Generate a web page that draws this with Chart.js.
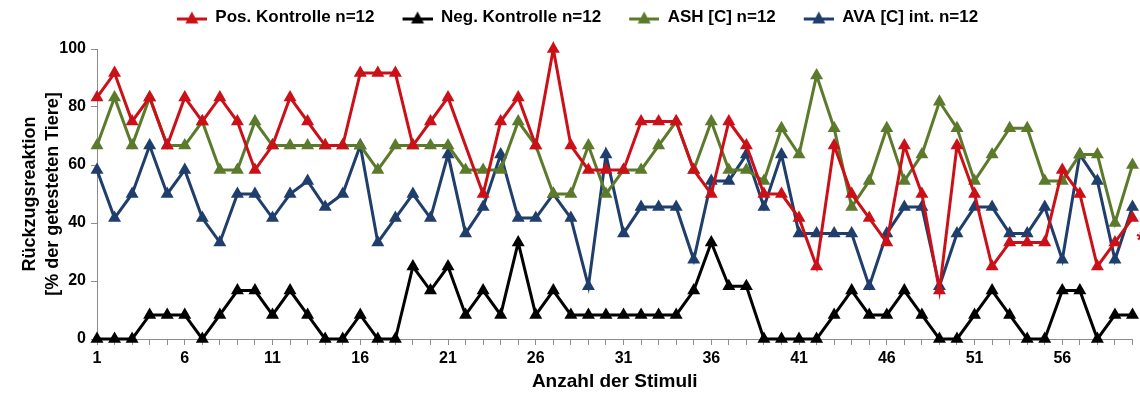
<!DOCTYPE html>
<html>
<head>
<meta charset="utf-8">
<title>Rückzugsreaktion</title>
<script src="https://cdn.jsdelivr.net/npm/chart.js@4.4.1/dist/chart.umd.min.js"></script>
<style>
  html, body { margin: 0; padding: 0; background: #ffffff; }
</style>
</head>
<body>
<canvas id="chart" width="1140" height="394"></canvas>
<script>
// Stimulus-Nummern 1..60
const categories = Array.from({ length: 60 }, (_, i) => String(i + 1));

// Werte in %
const posKontrolle = [
  83.3, 91.7, 75, 83.3, 66.7, 83.3, 75, 83.3, 75, 58.3,
  66.7, 83.3, 75, 66.7, 66.7, 91.7, 91.7, 91.7, 66.7, 75,
  83.3, null, 50, 75, 83.3, 66.7, 100, 66.7, 58.3, 58.3,
  58.3, 75, 75, 75, 58.3, 50, 75, 66.7, 50, 50,
  41.7, 25, 66.7, 50, 41.7, 33.3, 66.7, 50, 16.7, 66.7,
  50, 25, 33.3, 33.3, 33.3, 58.3, 50, 25, 33.3, 41.7
];
const negKontrolle = [
  0, 0, 0, 8.3, 8.3, 8.3, 0, 8.3, 16.7, 16.7,
  8.3, 16.7, 8.3, 0, 0, 8.3, 0, 0, 25, 16.7,
  25, 8.3, 16.7, 8.3, 33.3, 8.3, 16.7, 8.3, 8.3, 8.3,
  8.3, 8.3, 8.3, 8.3, 16.7, 33.3, 18.2, 18.2, 0, 0,
  0, 0, 8.3, 16.7, 8.3, 8.3, 16.7, 8.3, 0, 0,
  8.3, 16.7, 8.3, 0, 0, 16.7, 16.7, 0, 8.3, 8.3
];
const ashC = [
  66.7, 83.3, 66.7, 83.3, 66.7, 66.7, 75, 58.3, 58.3, 75,
  66.7, 66.7, 66.7, 66.7, 66.7, 66.7, 58.3, 66.7, 66.7, 66.7,
  66.7, 58.3, 58.3, 58.3, 75, 66.7, 50, 50, 66.7, 50,
  58.3, 58.3, 66.7, 75, 58.3, 75, 58.3, 58.3, 54.5, 72.7,
  63.6, 90.9, 72.7, 45.5, 54.5, 72.7, 54.5, 63.6, 81.8, 72.7,
  54.5, 63.6, 72.7, 72.7, 54.5, 54.5, 63.6, 63.6, 40, 60
];
const avaCint = [
  58.3, 41.7, 50, 66.7, 50, 58.3, 41.7, 33.3, 50, 50,
  41.7, 50, 54.5, 45.5, 50, 66.7, 33.3, 41.7, 50, 41.7,
  63.6, 36.4, 45.5, 63.6, 41.7, 41.7, 50, 41.7, 18.2, 63.6,
  36.4, 45.5, 45.5, 45.5, 27.3, 54.5, 54.5, 63.6, 45.5, 63.6,
  36.4, 36.4, 36.4, 36.4, 18.2, 36.4, 45.5, 45.5, 18.2, 36.4,
  45.5, 45.5, 36.4, 36.4, 45.5, 27.3, 63.6, 54.5, 27.3, 45.5
];

const seriesNames = ['Pos. Kontrolle n=12', 'Neg. Kontrolle n=12', 'ASH [C] n=12', 'AVA [C] int. n=12'];
const seriesColors = ['#CC1018', '#000000', '#5C7A2C', '#1F3E6C'];
const yTicks = [0, 20, 40, 60, 80, 100];
const xTickEvery = 5;

const FONT = '"Liberation Sans", Arial, sans-serif';
const AXIS_GREY = '#8c8c8c';

// Legendensymbol: Linie mit Dreieck (links etwas Abstand zum vorigen Eintrag)
function legendIcon(color) {
  const c = document.createElement('canvas');
  c.width = 50; c.height = 14;
  const g = c.getContext('2d');
  g.strokeStyle = color;
  g.lineWidth = 3;
  g.beginPath(); g.moveTo(20, 8.5); g.lineTo(50, 8.5); g.stroke();
  g.fillStyle = color;
  g.beginPath(); g.moveTo(35, 1); g.lineTo(41.5, 13); g.lineTo(28.5, 13); g.closePath(); g.fill();
  return c;
}

const allSeries = [posKontrolle, negKontrolle, ashC, avaCint];
const datasets = allSeries.map((data, i) => ({
  label: seriesNames[i],
  data: data,
  borderColor: seriesColors[i],
  backgroundColor: seriesColors[i],
  borderWidth: 3,
  pointStyle: 'triangle',
  pointRadius: 7.5,
  pointHoverRadius: 7.5,
  pointBorderWidth: 0,
  tension: 0,
  spanGaps: true,
  clip: false
}));

// Legende naeher an den oberen Rand
const legendShift = {
  id: 'legendShift',
  afterLayout(chart) {
    if (chart.legend) {
      chart.legend.top -= 13;
      chart.legend.bottom -= 13;
    }
  }
};

// rotes Sternchen am Ende der Pos. Kontrolle
const starPlugin = {
  id: 'star',
  afterDatasetsDraw(chart) {
    const { ctx, scales } = chart;
    const x = scales.x.getPixelForValue(categories.length - 1) + 4;
    const y = scales.y.getPixelForValue(posKontrolle[posKontrolle.length - 1] - 8);
    ctx.save();
    ctx.fillStyle = seriesColors[0];
    ctx.font = 'bold 22px ' + FONT;
    ctx.textBaseline = 'middle';
    ctx.fillText('*', x, y);
    ctx.restore();
  }
};

new Chart(document.getElementById('chart'), {
  type: 'line',
  data: { labels: categories, datasets: datasets },
  plugins: [legendShift, starPlugin],
  options: {
    responsive: false,
    animation: false,
    layout: { padding: { top: 0, right: 5, left: 0, bottom: 0 } },
    plugins: {
      tooltip: { enabled: false },
      legend: {
        position: 'top',
        labels: {
          usePointStyle: true,
          pointStyleWidth: 50,
          padding: 8,
          color: '#000',
          font: { family: FONT, size: 17, weight: 'bold' },
          generateLabels(chart) {
            return chart.data.datasets.map((ds, i) => ({
              text: ds.label,
              fillStyle: ds.borderColor,
              strokeStyle: ds.borderColor,
              lineWidth: 0,
              pointStyle: legendIcon(ds.borderColor),
              datasetIndex: i,
              hidden: false
            }));
          }
        }
      }
    },
    scales: {
      x: {
        offset: false,
        afterFit(scale) { scale.height = 55; },
        border: { color: AXIS_GREY, width: 1 },
        grid: { drawOnChartArea: false, drawTicks: true, tickLength: 6, color: AXIS_GREY },
        ticks: {
          autoSkip: false,
          maxRotation: 0,
          padding: 4,
          color: '#000',
          font: { family: FONT, size: 16, weight: 'bold' },
          callback(value, index) { return index % xTickEvery === 0 ? categories[index] : ''; }
        },
        title: {
          display: true,
          text: 'Anzahl der Stimuli',
          color: '#000',
          padding: { top: 0, bottom: 1 },
          font: { family: FONT, size: 19, weight: 'bold' }
        }
      },
      y: {
        min: 0,
        max: 100,
        afterFit(scale) { scale.width = 97; scale.paddingTop = 49; },
        afterBuildTicks(scale) { scale.ticks = yTicks.map(v => ({ value: v })); },
        border: { color: AXIS_GREY, width: 1 },
        grid: { drawOnChartArea: false, drawTicks: true, tickLength: 6, color: AXIS_GREY },
        ticks: {
          padding: 5,
          color: '#000',
          font: { family: FONT, size: 16, weight: 'bold' }
        },
        title: {
          display: true,
          text: ['Rückzugsreaktion', '[% der getesteten Tiere]'],
          color: '#000',
          padding: { top: 19, bottom: 0 },
          font: { family: FONT, size: 18, weight: 'bold', lineHeight: 1.25 }
        }
      }
    }
  }
});
</script>
</body>
</html>
